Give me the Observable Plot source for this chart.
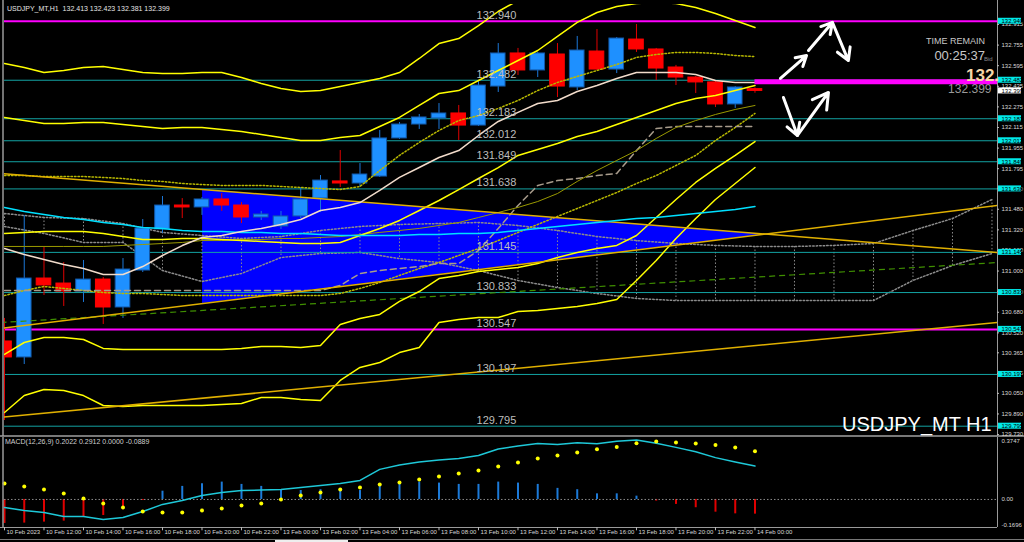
<!DOCTYPE html>
<html>
<head>
<meta charset="utf-8">
<script src="https://cdn.jsdelivr.net/npm/d3@7"></script>
<script src="https://cdn.jsdelivr.net/npm/@observablehq/plot@0.6"></script>
<style>
html,body{margin:0;padding:0;background:#000;}
body{position:relative;width:1024px;height:542px;overflow:hidden;font-family:"Liberation Sans",Arial,sans-serif;}
.abs{position:absolute;}
.t{position:absolute;white-space:nowrap;line-height:1;}
</style>
</head>
<body>
<div id="main" class="abs" style="left:0;top:0"></div>
<div id="macd" class="abs" style="left:0;top:436px"></div>
<div class="t" style="left:7px;top:5px;font-size:7px;color:#e6e6e6">USDJPY_MT,H1&nbsp; 132.413 132.423 132.381 132.399</div>
<div class="t" style="right:39px;top:37px;font-size:9px;color:#c8c8c8">TIME REMAIN</div>
<div class="t" style="right:39px;top:49px;font-size:13px;color:#c8c8c8">00:25:37</div>
<div class="t" style="left:984px;top:56px;font-size:6px;color:#8a8a8a">Bid</div>
<div class="t" style="left:966px;top:67px;font-size:17px;font-weight:bold;color:#f6d6a8">132.</div>
<div class="t" style="left:842px;top:414px;font-size:20px;color:#ffffff">USDJPY_MT H1</div>
<div class="t" style="left:5px;top:438px;font-size:7px;color:#d0d0d0">MACD(12,26,9) 0.2022 0.2912 0.0000 -0.0889</div>
<div class="abs" style="left:0;top:539px;width:1024px;height:1px;background:#777"></div>
<div class="abs" style="left:275px;top:540px;width:73px;height:2px;background:#eee"></div>
<script>
// ---------- candle data (USDJPY H1, 10 Feb 10:00 .. 14 Feb 00:00) ----------
const OPEN  = [130.453,130.329,130.942,130.903,130.841,130.934,130.717,131.004,131.323,131.509,131.494,131.556,131.509,131.416,131.346,131.424,131.563,131.696,131.680,131.734,132.030,132.138,132.185,132.224,132.130,132.433,132.690,132.558,132.682,132.426,132.705,132.565,132.798,132.721,132.581,132.503,132.465,132.294,132.413];
const HIGH  = [130.632,131.432,131.183,131.066,131.082,130.950,131.097,131.400,131.579,131.563,131.571,131.602,131.532,131.463,131.463,131.649,131.742,131.936,131.835,132.092,132.154,132.216,132.301,132.286,132.480,132.767,132.729,132.698,132.767,132.822,132.876,132.814,132.915,132.729,132.597,132.511,132.472,132.433,132.423];
const LOW   = [129.839,130.274,130.810,130.725,130.756,130.585,130.632,130.989,131.292,131.408,131.432,131.463,131.369,131.393,131.323,131.408,131.455,131.649,131.649,131.727,132.022,132.100,132.100,132.014,132.123,132.387,132.519,132.503,132.348,132.402,132.558,132.534,132.698,132.480,132.441,132.379,132.270,132.263,132.381];
const CLOSE = [130.329,130.942,130.888,130.841,130.934,130.717,131.012,131.331,131.509,131.494,131.556,131.509,131.416,131.439,131.424,131.556,131.703,131.680,131.750,132.030,132.138,132.193,132.224,132.130,132.441,132.690,132.558,132.690,132.433,132.713,132.565,132.806,132.721,132.573,132.503,132.465,132.294,132.426,132.399];

// x-axis labels (every 2 bars)
const X_TICK_INDEX = [0,2,4,6,8,10,12,14,16,18,20,22,24,26,28,30,32,34,36,38];
const X_TICK_LABELS = ["10 Feb 2023","10 Feb 12:00","10 Feb 14:00","10 Feb 16:00","10 Feb 18:00","10 Feb 20:00","10 Feb 22:00","13 Feb 00:00","13 Feb 02:00","13 Feb 04:00","13 Feb 06:00","13 Feb 08:00","13 Feb 10:00","13 Feb 12:00","13 Feb 14:00","13 Feb 16:00","13 Feb 18:00","13 Feb 20:00","13 Feb 22:00","14 Feb 00:00"];

// right price scale
const PRICE_TICKS = [132.915,132.755,132.595,132.435,132.275,132.115,131.955,131.795,131.640,131.480,131.320,131.160,131.000,130.840,130.680,130.520,130.365,130.205,130.050,129.890,129.730];

// horizontal levels
const LEVELS = [132.940,132.482,132.183,132.012,131.849,131.638,131.145,130.833,130.547,130.197,129.795];
const LEVEL_KIND = ["major","minor","minor","minor","minor","minor","minor","minor","major","minor","minor"];
const LEVEL_LABEL_BAR = 23.9;
const BID = 132.399;

// indicators (per bar)
const MA_FAST = [131.175,131.129,131.090,131.051,131.020,130.973,130.973,131.035,131.121,131.198,131.261,131.276,131.307,131.331,131.362,131.400,131.470,131.494,131.532,131.626,131.727,131.804,131.882,131.936,132.053,132.162,132.232,132.301,132.325,132.395,132.441,132.496,132.542,132.542,132.542,132.527,132.480,132.465,132.465];
const MA_SLOW = [131.494,131.463,131.439,131.416,131.400,131.377,131.362,131.338,131.331,131.315,131.307,131.307,131.300,131.300,131.292,131.292,131.284,131.276,131.276,131.276,131.276,131.284,131.284,131.292,131.292,131.300,131.315,131.331,131.346,131.362,131.377,131.393,131.408,131.416,131.432,131.447,131.463,131.478,131.501];
const MA_OLIVE = [131.191,131.191,131.191,131.191,131.191,131.191,131.199,131.206,131.214,131.222,131.237,131.237,131.245,131.245,131.253,131.253,131.261,131.268,131.284,131.300,131.315,131.331,131.354,131.377,131.416,131.455,131.494,131.540,131.602,131.696,131.781,131.859,131.936,132.030,132.115,132.169,132.216,132.255,132.286];
const BB_MID = [131.292,131.300,131.307,131.307,131.307,131.292,131.268,131.245,131.245,131.253,131.253,131.245,131.237,131.230,131.222,131.214,131.214,131.222,131.276,131.331,131.393,131.470,131.548,131.633,131.719,131.804,131.898,131.944,131.991,132.045,132.084,132.138,132.193,132.247,132.301,132.340,132.364,132.402,132.441];
const BB2_UP = [132.193,132.169,132.146,132.146,132.154,132.154,132.138,132.123,132.107,132.115,132.115,132.099,132.084,132.061,132.037,132.014,132.014,132.037,132.053,132.123,132.193,132.286,132.379,132.402,132.480,132.558,132.635,132.713,132.822,132.931,133.008,133.055,133.078,133.086,133.078,133.047,133.000,132.946,132.892];
const BB2_LO = [130.352,130.445,130.484,130.484,130.468,130.399,130.391,130.391,130.391,130.391,130.391,130.391,130.399,130.414,130.414,130.406,130.422,130.585,130.632,130.663,130.764,130.841,130.942,130.966,130.997,131.012,131.028,131.059,131.105,131.144,131.175,131.199,131.276,131.416,131.556,131.688,131.797,131.898,132.006];
const BB3_UP = [132.612,132.581,132.542,132.558,132.581,132.589,132.566,132.542,132.534,132.534,132.542,132.542,132.503,132.457,132.418,132.395,132.402,132.433,132.465,132.496,132.542,132.651,132.767,132.806,132.907,133.016,133.101,133.164,133.218,133.257,133.272,133.272,133.257,133.241,133.218,133.195,133.179,133.164,133.140];
const BB3_LO = [129.901,130.033,130.080,130.072,130.033,129.956,129.948,129.956,129.956,129.956,129.956,129.964,129.971,130.018,130.018,130.002,129.995,130.150,130.251,130.290,130.367,130.406,130.600,130.624,130.639,130.639,130.686,130.694,130.709,130.725,130.748,130.779,130.927,131.082,131.253,131.408,131.556,131.680,131.804];
const ENV_UP = [131.742,131.742,131.734,131.734,131.734,131.727,131.719,131.703,131.696,131.680,131.672,131.665,131.665,131.665,131.657,131.649,131.641,131.633,131.657,131.781,131.898,131.999,132.092,132.169,132.208,132.263,132.325,132.402,132.465,132.511,132.558,132.604,132.659,132.682,132.698,132.698,132.690,132.674,132.666];
const ENV_LO = [130.810,130.849,130.880,130.865,130.849,130.833,130.826,130.826,130.818,130.810,130.810,130.810,130.810,130.810,130.810,130.810,130.810,130.826,130.865,130.911,130.966,131.020,131.066,131.121,131.175,131.237,131.300,131.362,131.424,131.486,131.548,131.610,131.680,131.742,131.820,131.898,132.014,132.115,132.224];
const KIJUN = [130.849,130.849,130.849,130.849,130.849,130.849,130.849,130.849,130.849,130.849,130.849,130.849,130.849,130.849,130.849,130.849,130.849,130.888,130.981,131.004,131.020,131.035,131.059,131.059,131.160,131.331,131.509,131.665,131.703,131.719,131.742,131.758,131.936,132.107,132.123,132.123,132.123,132.123,132.123];

// cloud (every 2 bars, shifted forward)
const KUMO_BAR = [0,2,4,6,8,10,12,14,16,18,20,22,24,26,28,30,32,34,36,38,40,42,44,46,48,50];
const KUMO_A = [131.447,131.416,131.408,131.369,131.300,131.276,131.253,131.268,131.315,131.346,131.362,131.369,131.377,131.354,131.315,131.268,131.237,131.214,131.199,131.191,131.191,131.199,131.214,131.315,131.408,131.556];
const KUMO_B = [131.346,131.292,131.222,131.222,131.004,130.919,130.981,131.105,131.136,131.144,131.097,131.066,131.004,130.927,130.872,130.826,130.787,130.771,130.771,130.771,130.771,130.771,130.771,130.927,131.043,131.136];

// drawn objects
const TREND_X1 = [-0.2,-0.2,-0.2];
const TREND_P1 = [131.758,130.554,129.863];
const TREND_X2 = [50.28,50.28,50.28];
const TREND_P2 = [131.144,131.509,130.600];
const GREEN_X = [-0.2,50.28];
const GREEN_P = [130.600,131.066];
const TRI_X = [10.03,38.53];
const TRI_LO = [130.748,131.284];
const TRI_HI = [131.633,131.284];
const ARROW_X1 = [39.29,40.71,41.92,39.44,40.15];
const ARROW_P1 = [132.496,132.713,132.931,132.348,132.053];
const ARROW_X2 = [40.61,41.92,42.73,40.15,41.72];
const ARROW_P2 = [132.674,132.931,132.635,132.053,132.387];
const BID_BAR = {from: 38, to: 50.28, price: 132.470};

// MACD(12,26,9)
const MACD_HIST = [-0.145,-0.143,-0.137,-0.131,-0.107,-0.097,-0.062,-0.006,0.050,0.079,0.095,0.105,0.091,0.079,0.060,0.054,0.059,0.065,0.054,0.091,0.105,0.105,0.099,0.091,0.091,0.105,0.099,0.091,0.067,0.059,0.034,0.034,0.020,-0.010,-0.030,-0.050,-0.077,-0.087,-0.0889];
const MACD_LINE = [-0.048,-0.067,-0.079,-0.103,-0.103,-0.121,-0.109,-0.073,-0.030,-0.006,0.024,0.042,0.054,0.057,0.060,0.073,0.085,0.097,0.115,0.182,0.208,0.226,0.238,0.248,0.266,0.305,0.323,0.339,0.333,0.343,0.337,0.352,0.360,0.340,0.315,0.288,0.253,0.227,0.2022];
const MACD_SIGNAL = [0.097,0.079,0.060,0.036,0.006,-0.024,-0.048,-0.073,-0.079,-0.079,-0.067,-0.054,-0.036,-0.024,0.000,0.024,0.042,0.060,0.073,0.091,0.103,0.121,0.139,0.157,0.175,0.200,0.224,0.248,0.266,0.284,0.303,0.318,0.340,0.350,0.345,0.338,0.330,0.314,0.2912];
const MACD_SCALE = [0.3747, 0.0, -0.1696];
const MACD_SCALE_TEXT = ["0.3747","0.00","-0.1696"];

// ---------- geometry ----------
const X_DOMAIN = [0, 50.28];
const Y_DOMAIN = [129.7305, 133.0703];
const M_DOMAIN = [-0.1696, 0.3747];
const W = 1024, ML = 4, MR = 27;
const PXX = (X_DOMAIN[1] - X_DOMAIN[0]) / (W - ML - MR);
const PXY = (Y_DOMAIN[1] - Y_DOMAIN[0]) / 430;
const XR = X_DOMAIN[1];

const candles = OPEN.map((o, i) => ({i, o, h: HIGH[i], l: LOW[i], c: CLOSE[i], up: CLOSE[i] >= o}));
const ser = arr => arr.map((v, i) => ({i, v}));
const kumo = KUMO_BAR.map((b, k) => ({i: b, a: KUMO_A[k], b: KUMO_B[k]}));
const trends = TREND_X1.map((x, k) => ({x1: x, y1: TREND_P1[k], x2: TREND_X2[k], y2: TREND_P2[k]}));
const greens = [{x1: GREEN_X[0], y1: GREEN_P[0], x2: GREEN_X[1], y2: GREEN_P[1]}];
const tri = TRI_X.map((x, k) => ({x, lo: TRI_LO[k], hi: TRI_HI[k]}));
const arrows = ARROW_X1.map((x, k) => ({x1: x, y1: ARROW_P1[k], x2: ARROW_X2[k], y2: ARROW_P2[k]}));
const levels = LEVELS.map((p, k) => ({p, major: LEVEL_KIND[k] === "major"}));
const boxes = [...levels.map(d => ({p: d.p, fill: "#00e8e8"})), {p: BID, fill: "#ffffff"}];

const BLUE = "#1e90ff", RED = "#ff0000";
const line = (arr, o) => Plot.line(ser(arr), {x: "i", y: "v", clip: true, ...o});

const main = Plot.plot({
  width: W, height: 436,
  marginLeft: ML, marginRight: MR, marginTop: 4, marginBottom: 2,
  style: {background: "transparent", color: "#d0d0d0", fontFamily: "Liberation Sans, Arial, sans-serif", overflow: "visible"},
  x: {domain: X_DOMAIN, axis: null},
  y: {domain: Y_DOMAIN, axis: null},
  marks: [
    Plot.areaY(tri, {x: "x", y1: "lo", y2: "hi", fill: "#0000ff", curve: "linear"}),
    // cloud
    Plot.ruleX(kumo, {x: "i", y1: "a", y2: "b", stroke: "#8c8c8c", strokeDasharray: "1.5,2", clip: true}),
    Plot.line(kumo, {x: "i", y: "a", stroke: "#8c8c8c", strokeDasharray: "1.5,2", clip: true}),
    Plot.line(kumo, {x: "i", y: "b", stroke: "#8c8c8c", strokeDasharray: "1.5,2", clip: true}),
    // levels
    Plot.ruleY(levels, {y: "p", stroke: d => d.major ? "#ff00ff" : "#13a3a3", strokeWidth: d => d.major ? 2 : 1}),
    // candles
    Plot.ruleX(candles, {x: "i", y1: "l", y2: "h", stroke: d => d.up ? "#1c78d8" : "#e00000", clip: true}),
    Plot.rect(candles, {x1: d => d.i - 0.37, x2: d => d.i + 0.37, y1: "o", y2: "c",
      fill: d => d.up ? BLUE : RED, stroke: d => d.up ? "#1258a8" : RED, strokeWidth: 1, clip: true}),
    // indicators
    line(ENV_UP, {stroke: "#b8b800", strokeDasharray: "1.5,2"}),
    line(ENV_LO, {stroke: "#b8b800", strokeDasharray: "1.5,2"}),
    line(KIJUN, {stroke: "#a89c8c", strokeDasharray: "6,4"}),
    Plot.link(greens, {x1: "x1", y1: "y1", x2: "x2", y2: "y2", stroke: "#3f8f00", strokeDasharray: "6,4", strokeWidth: 1.2, clip: true}),
    line(MA_OLIVE, {stroke: "#9a9a00", strokeWidth: 1}),
    line(BB3_UP, {stroke: "#ffff00", strokeWidth: 1.5}),
    line(BB3_LO, {stroke: "#ffff00", strokeWidth: 1.5}),
    line(BB2_UP, {stroke: "#ffff00", strokeWidth: 1.5}),
    line(BB2_LO, {stroke: "#ffff00", strokeWidth: 1.5}),
    line(BB_MID, {stroke: "#ffff00", strokeWidth: 1.5}),
    Plot.link(trends, {x1: "x1", y1: "y1", x2: "x2", y2: "y2", stroke: "#e0b000", strokeWidth: 1.5, clip: true}),
    line(MA_SLOW, {stroke: "#00e0ff", strokeWidth: 1.5}),
    line(MA_FAST, {stroke: "#f2dccb", strokeWidth: 1.5}),
    // level labels
    Plot.text(levels, {x: () => LEVEL_LABEL_BAR, y: "p", text: d => d.p.toFixed(3), dy: -6, textAnchor: "start", fill: "#bdbdbd", fontSize: 11}),
    // bid text + bar
    Plot.text([BID], {x: () => XR, y: d => d, text: d => d.toFixed(3), dx: -6, dy: -2, textAnchor: "end", fill: "#9a9a9a", fontSize: 12}),
    Plot.ruleY([BID_BAR], {y: "price", x1: "from", x2: "to", stroke: "#ff00ff", strokeWidth: 5}),
    // arrows
    Plot.arrow(arrows, {x1: "x1", y1: "y1", x2: "x2", y2: "y2", stroke: "#ffffff", strokeWidth: 3, headLength: 11, bend: 0}),
    // panel borders
    Plot.ruleX([X_DOMAIN[1]], {stroke: "#9a9a9a", y1: Y_DOMAIN[0] - 2 * PXY, y2: Y_DOMAIN[1] + 4 * PXY}),
    Plot.ruleX([X_DOMAIN[0] - 1.5 * PXX], {stroke: "#9a9a9a", y1: Y_DOMAIN[0] - 2 * PXY, y2: Y_DOMAIN[1] + 4 * PXY, strokeWidth: 1.5}),
    Plot.ruleY([Y_DOMAIN[0] - 1.5 * PXY], {stroke: "#a0a0a0", x1: X_DOMAIN[0] - 4 * PXX, x2: X_DOMAIN[1] + 27 * PXX, strokeWidth: 1.5}),
    // right price scale
    Plot.ruleY(PRICE_TICKS, {y: d => d, x1: () => XR, x2: () => XR + 2 * PXX, stroke: "#bbbbbb"}),
    Plot.text(PRICE_TICKS, {x: () => XR, y: d => d, text: d => d.toFixed(3), dx: 4, textAnchor: "start", fill: "#d8d8d8", fontSize: 6}),
    Plot.rect(boxes, {x1: () => XR + 1 * PXX, x2: () => XR + 24 * PXX, y1: d => d.p - 3 * PXY, y2: d => d.p + 3 * PXY, fill: "fill"}),
    Plot.text(boxes, {x: () => XR, y: "p", text: d => d.p.toFixed(3), dx: 4, textAnchor: "start", fill: "#000", fontSize: 6})
  ]
});
document.getElementById("main").appendChild(main);

const macd = Plot.plot({
  width: W, height: 106,
  marginLeft: ML, marginRight: MR, marginTop: 1, marginBottom: 15,
  style: {background: "transparent", color: "#d0d0d0", fontFamily: "Liberation Sans, Arial, sans-serif", overflow: "visible"},
  x: {domain: X_DOMAIN, axis: null},
  y: {domain: M_DOMAIN, axis: null},
  marks: [
    Plot.ruleX(ser(MACD_HIST), {x: "i", y1: 0, y2: "v", stroke: d => d.v >= 0 ? "#1c7ad8" : "#e00000", strokeWidth: 2}),
    Plot.ruleY([0], {stroke: "#8a8a8a", strokeDasharray: "1.5,2"}),
    Plot.line(ser(MACD_LINE), {x: "i", y: "v", stroke: "#1ec8d8", strokeWidth: 1.5}),
    Plot.dot(ser(MACD_SIGNAL), {x: "i", y: "v", r: 2, fill: "#ffff00", stroke: "none"}),
    // frame
    Plot.ruleX([X_DOMAIN[1]], {stroke: "#9a9a9a"}),
    Plot.ruleX([X_DOMAIN[0] - 1.5 * PXX], {stroke: "#9a9a9a", strokeWidth: 1.5}),
    Plot.ruleY([M_DOMAIN[0]], {stroke: "#9a9a9a", x1: X_DOMAIN[0] - 4 * PXX, x2: X_DOMAIN[1]}),
    // scale labels
    Plot.text([0], {x: () => XR, y: () => MACD_SCALE[0], text: () => MACD_SCALE_TEXT[0], dx: 4, dy: 1, lineAnchor: "top", textAnchor: "start", fill: "#d8d8d8", fontSize: 6}),
    Plot.text([1], {x: () => XR, y: () => MACD_SCALE[1], text: () => MACD_SCALE_TEXT[1], dx: 4, textAnchor: "start", fill: "#d8d8d8", fontSize: 6}),
    Plot.text([2], {x: () => XR, y: () => MACD_SCALE[2], text: () => MACD_SCALE_TEXT[2], dx: 4, dy: -1, lineAnchor: "bottom", textAnchor: "start", fill: "#d8d8d8", fontSize: 6}),
    // time axis
    Plot.ruleX(X_TICK_INDEX, {x: d => d, y1: M_DOMAIN[0], y2: M_DOMAIN[0] - 0.02, stroke: "#bbbbbb"}),
    Plot.text(X_TICK_INDEX, {x: d => d, text: (d, k) => X_TICK_LABELS[k], frameAnchor: "bottom", dy: 6, dx: 2, textAnchor: "start", fill: "#d8d8d8", fontSize: 6})
  ]
});
document.getElementById("macd").appendChild(macd);
</script>
</body>
</html>
